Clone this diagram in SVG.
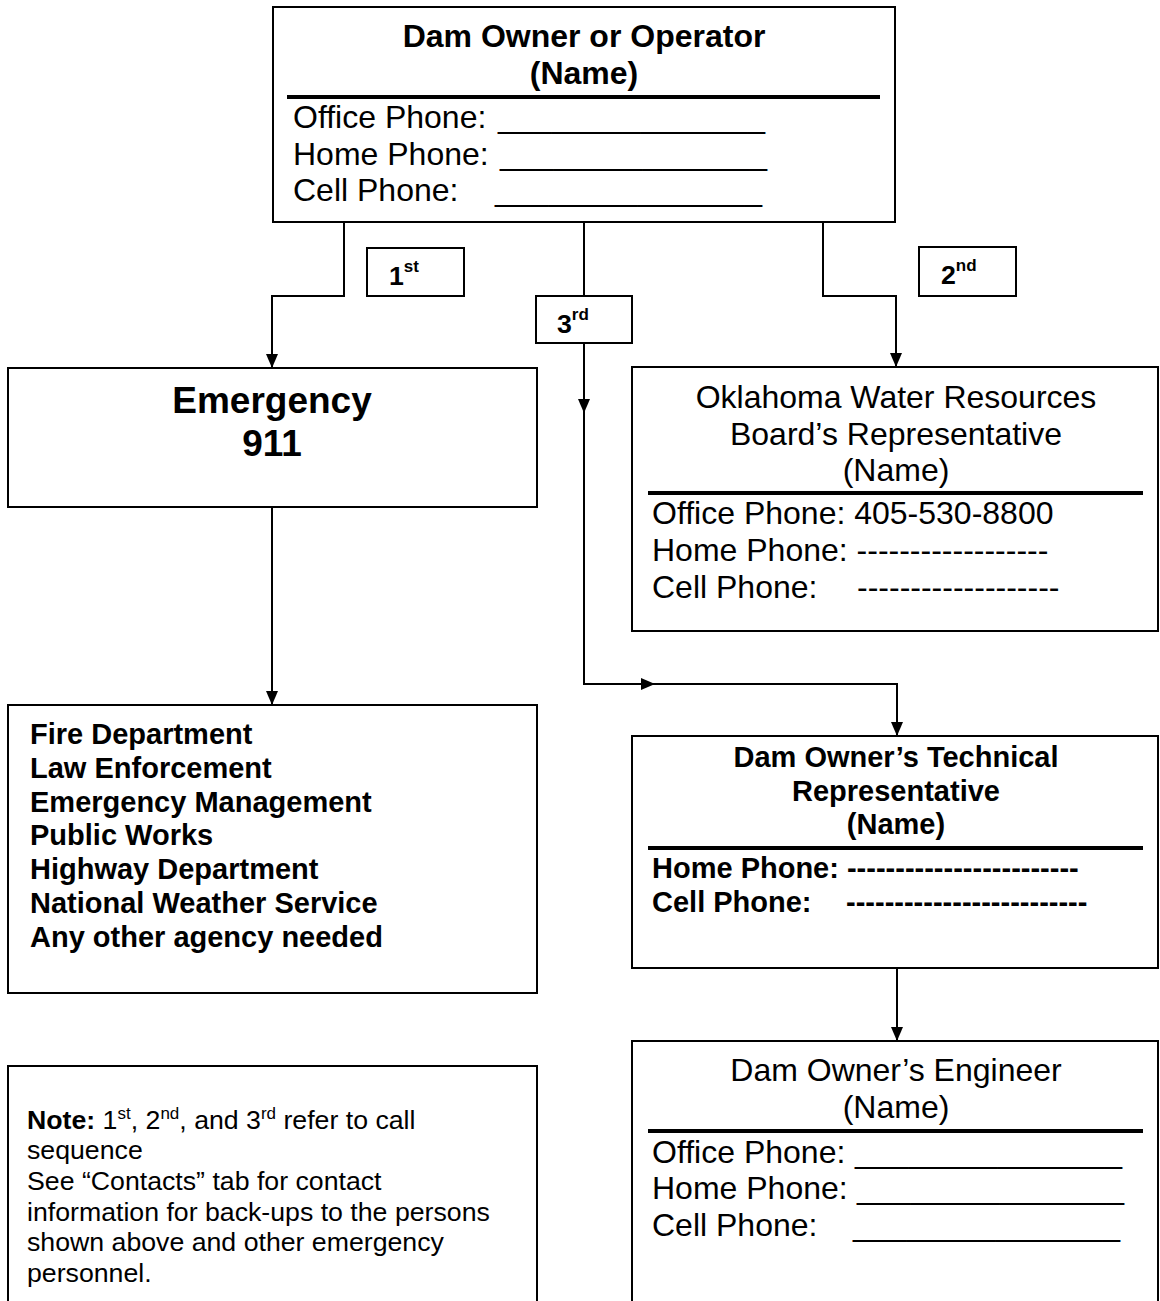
<svg xmlns="http://www.w3.org/2000/svg" width="1160" height="1301" viewBox="0 0 1160 1301">
<style>
.box{fill:#fff;stroke:#000;stroke-width:2}
.sep{stroke:#000;stroke-width:4}
.con{fill:none;stroke:#000;stroke-width:2}
text{font-family:"Liberation Sans",Arial,sans-serif;fill:#000}
.r32{font-size:32px}
.b32{font-size:32px;font-weight:bold}
.b37{font-size:37px;font-weight:bold}
.b29{font-size:29px;font-weight:bold}
.r27{font-size:26.7px}
.b27{font-size:26.7px;font-weight:bold}
.mid{text-anchor:middle}
</style>
<defs>
<marker id="arr" viewBox="0 0 14 12" refX="14" refY="6" markerWidth="14" markerHeight="12" markerUnits="userSpaceOnUse" orient="auto">
<path d="M0,0 L14,6 L0,12 z" fill="#000"/>
</marker>
</defs>
<rect width="1160" height="1301" fill="#fff"/>

<g id="connectors">
<path class="con" d="M344,222 V296 H272 V368" marker-end="url(#arr)"/>
<path class="con" d="M584,222 V296"/>
<path class="con" d="M584,343 V413" marker-end="url(#arr)"/>
<path class="con" d="M584,411 V684 H655" marker-end="url(#arr)"/>
<path class="con" d="M653,684 H897 V736" marker-end="url(#arr)"/>
<path class="con" d="M823,222 V296 H896 V367" marker-end="url(#arr)"/>
<path class="con" d="M272,507 V705" marker-end="url(#arr)"/>
<path class="con" d="M897,968 V1041" marker-end="url(#arr)"/>
</g>

<g id="owner">
<rect class="box" x="273" y="7" width="622" height="215"/>
<text class="b32 mid" x="584" y="47">Dam Owner or Operator</text>
<text class="b32 mid" x="584" y="84">(Name)</text>
<line class="sep" x1="287" y1="97" x2="880" y2="97"/>
<text class="r32" x="293" y="128">Office Phone:</text>
<text class="r32" x="498" y="128">_______________</text>
<text class="r32" x="293" y="165">Home Phone:</text>
<text class="r32" x="500" y="165">_______________</text>
<text class="r32" x="293" y="201">Cell Phone:</text>
<text class="r32" x="495" y="201">_______________</text>
</g>

<g id="label1">
<rect class="box" x="367" y="248" width="97" height="48"/>
<text class="b27" x="389" y="285">1<tspan font-size="17" dy="-13">st</tspan></text>
</g>
<g id="label2">
<rect class="box" x="919" y="247" width="97" height="49"/>
<text class="b27" x="941" y="284">2<tspan font-size="17" dy="-13">nd</tspan></text>
</g>
<g id="label3">
<rect class="box" x="536" y="296" width="96" height="47"/>
<text class="b27" x="557" y="333">3<tspan font-size="17" dy="-13">rd</tspan></text>
</g>

<g id="emergency">
<rect class="box" x="8" y="368" width="529" height="139"/>
<text class="b37 mid" x="272" y="413">Emergency</text>
<text class="b37 mid" x="272" y="456">911</text>
</g>

<g id="agencies">
<rect class="box" x="8" y="705" width="529" height="288"/>
<text class="b29" x="30" y="744">Fire Department</text>
<text class="b29" x="30" y="778">Law Enforcement</text>
<text class="b29" x="30" y="812">Emergency Management</text>
<text class="b29" x="30" y="845">Public Works</text>
<text class="b29" x="30" y="879">Highway Department</text>
<text class="b29" x="30" y="913">National Weather Service</text>
<text class="b29" x="30" y="947">Any other agency needed</text>
</g>

<g id="note">
<path class="con" d="M8,1310 V1066 H537 V1310"/>
<text class="r27" x="27" y="1129"><tspan font-weight="bold">Note:</tspan> 1<tspan font-size="17" dy="-10">st</tspan><tspan dy="10">, 2</tspan><tspan font-size="17" dy="-10">nd</tspan><tspan dy="10">, and 3</tspan><tspan font-size="17" dy="-10">rd</tspan><tspan dy="10"> refer to call</tspan></text>
<text class="r27" x="27" y="1159">sequence</text>
<text class="r27" x="27" y="1190">See “Contacts” tab for contact</text>
<text class="r27" x="27" y="1221">information for back-ups to the persons</text>
<text class="r27" x="27" y="1251">shown above and other emergency</text>
<text class="r27" x="27" y="1282">personnel.</text>
</g>

<g id="owrb">
<rect class="box" x="632" y="367" width="526" height="264"/>
<text class="r32 mid" x="896" y="408">Oklahoma Water Resources</text>
<text class="r32 mid" x="896" y="445">Board’s Representative</text>
<text class="r32 mid" x="896" y="481">(Name)</text>
<line class="sep" x1="648" y1="493" x2="1143" y2="493"/>
<text class="r32" x="652" y="524">Office Phone: 405-530-8800</text>
<text class="r32" x="652" y="561">Home Phone: ------------------</text>
<text class="r32" x="652" y="598">Cell Phone:</text>
<text class="r32" x="857" y="598">-------------------</text>
</g>

<g id="techrep">
<rect class="box" x="632" y="736" width="526" height="232"/>
<text class="b29 mid" x="896" y="767">Dam Owner’s Technical</text>
<text class="b29 mid" x="896" y="801">Representative</text>
<text class="b29 mid" x="896" y="834">(Name)</text>
<line class="sep" x1="648" y1="848" x2="1143" y2="848"/>
<text class="b29" x="652" y="878">Home Phone: ------------------------</text>
<text class="b29" x="652" y="912">Cell Phone:</text>
<text class="b29" x="846" y="912">-------------------------</text>
</g>

<g id="engineer">
<path class="con" d="M632,1310 V1041 H1158 V1310"/>
<text class="r32 mid" x="896" y="1081">Dam Owner’s Engineer</text>
<text class="r32 mid" x="896" y="1118">(Name)</text>
<line class="sep" x1="648" y1="1131" x2="1143" y2="1131"/>
<text class="r32" x="652" y="1163">Office Phone:</text>
<text class="r32" x="855" y="1163">_______________</text>
<text class="r32" x="652" y="1199">Home Phone:</text>
<text class="r32" x="857" y="1199">_______________</text>
<text class="r32" x="652" y="1236">Cell Phone:</text>
<text class="r32" x="853" y="1236">_______________</text>
</g>
</svg>
